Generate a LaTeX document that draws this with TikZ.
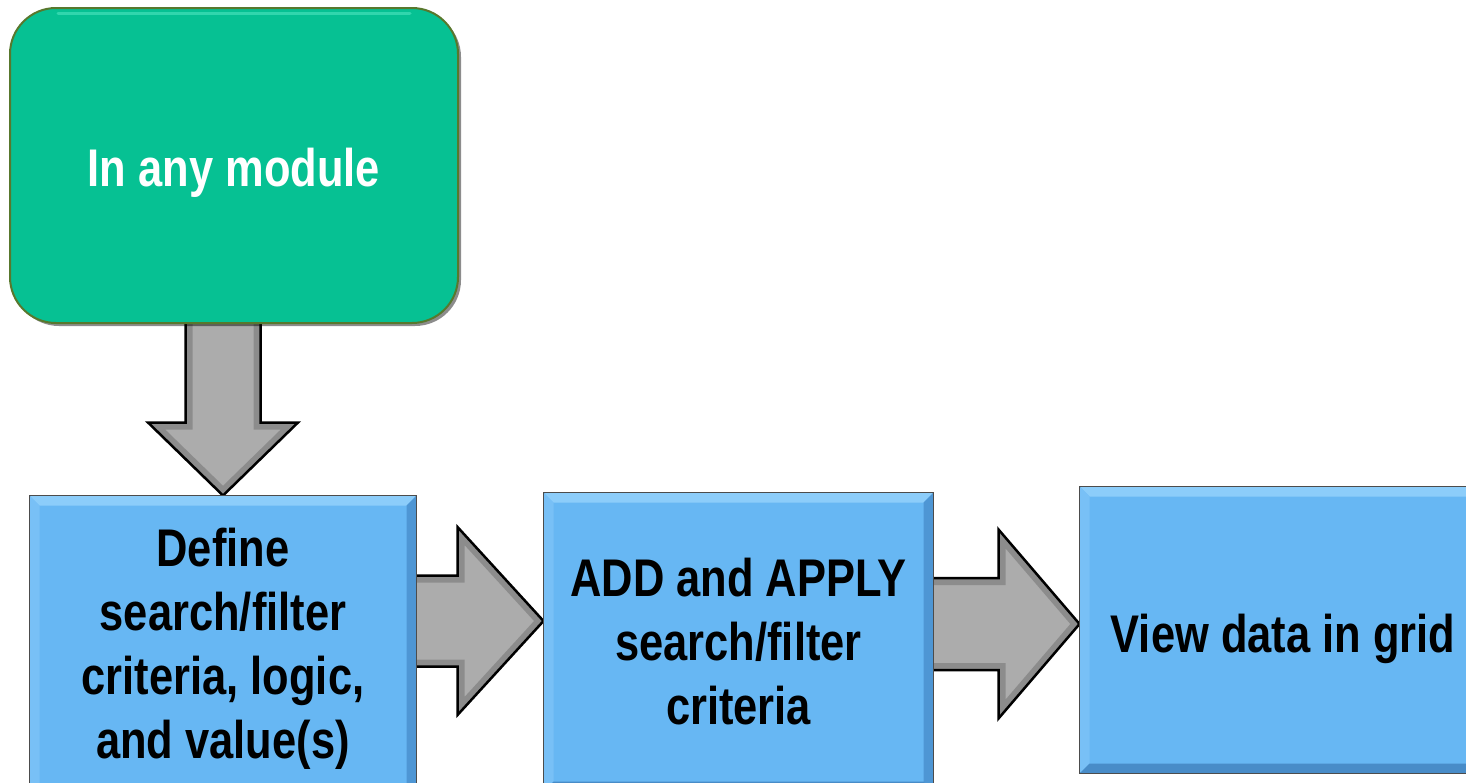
\documentclass[tikz,border=0pt]{standalone}
\usepackage{fontspec}
\newfontfamily\narrowsans{Liberation Sans}[FakeStretch=0.82]
\usetikzlibrary{calc,backgrounds,shadows}

\definecolor{modgreen}{RGB}{6,193,147}
\definecolor{modedge}{RGB}{88,120,45}
\definecolor{modhigh}{RGB}{60,220,180}
\definecolor{stepblue}{RGB}{103,183,243}
\definecolor{bevellight}{RGB}{140,205,250}
\definecolor{bevelside}{RGB}{120,192,246}
\definecolor{beveldark}{RGB}{78,150,212}
\definecolor{bevelbottom}{RGB}{72,140,200}
\definecolor{arrowgray}{RGB}{172,172,172}

\tikzset{
  labeltext/.style={font=\narrowsans\bfseries\fontsize{53}{64}\selectfont, align=center},
  startbox/.style={fill=modgreen, draw=modedge, line width=2pt,
    rounded corners=46pt, minimum width=448pt, minimum height=315pt, inner sep=0pt,
    drop shadow={shadow xshift=3pt, shadow yshift=-3pt, opacity=.45, fill=black}},
  stepbox/.style={fill=stepblue, draw=gray!60!black, line width=1pt, inner sep=0pt},
  arrowrim/.style={draw=black, opacity=.18, line width=14pt},
  arrowline/.style={draw=black, line width=2.5pt, line join=miter},
}

% bevelled edges of a step box: #1 node name, #2 bevel width
\newcommand\bevelbox[2]{%
  \fill[bevellight] (#1.north west) -- (#1.north east) -- ($(#1.north east)+(-#2,#2)$) -- ($(#1.north west)+(#2,#2)$) -- cycle;
  \fill[bevelside] (#1.north west) -- ($(#1.north west)+(#2,#2)$) -- ($(#1.south west)+(#2,-#2)$) -- (#1.south west) -- cycle;
  \fill[beveldark] (#1.north east) -- ($(#1.north east)+(-#2,#2)$) -- ($(#1.south east)+(-#2,-#2)$) -- (#1.south east) -- cycle;
  \fill[bevelbottom] (#1.south west) -- (#1.south east) -- ($(#1.south east)+(-#2,-#2)$) -- ($(#1.south west)+(#2,-#2)$) -- cycle;
  \draw[gray!60!black, line width=1.2pt] (#1.north west) rectangle (#1.south east);
}

\begin{document}
\begin{tikzpicture}[x=1pt, y=-1pt]
  \useasboundingbox (0,0) rectangle (1466,782);
  \clip (0,0) rectangle (1466,782);

  % start box
  \node[startbox] (m) at (234,165.5) {};
  \draw[modhigh, line width=3pt, line cap=round, opacity=.8] (58,13) -- (410,13);
  \node[labeltext, text=white] (mt) at ($(m.center)+(0,7)$) {In any module};

  % step boxes
  \node[stepbox, minimum width=386pt, minimum height=299pt] (d) at (223,645.5) {};
  \node[stepbox, minimum width=389pt, minimum height=298pt] (a) at (738.5,642) {};
  \node[stepbox, minimum width=406pt, minimum height=286pt] (v) at (1283,630) {};
  \bevelbox{d}{10}
  \bevelbox{a}{10}
  \bevelbox{v}{10}
  \node[labeltext, text=black] (dt) at ($(d.center)+(0,3)$) {Define\\search/filter\\criteria, logic,\\and value(s)};
  \node[labeltext, text=black] (at) at (a.center) {ADD and APPLY\\search/filter\\criteria};
  \node[labeltext, text=black] (vt) at ($(v.center)+(0,9)$) {View data in grid};

  % block arrows between the boxes
  \begin{pgfonlayer}{background}
    \coordinate (ds) at (d.north |- m.south);
    \def\downarrowpath{($(ds)+(-37.5,-8)$) -- ($(d.north)+(-37.5,-73)$) -- ($(d.north)+(-75,-73)$) -- (d.north) -- ($(d.north)+(75,-73)$) -- ($(d.north)+(37.5,-73)$) -- ($(ds)+(37.5,-8)$) -- cycle}
    \coordinate (r1s) at ($(d.east |- 0,621)+(-8,0)$);
    \coordinate (r1e) at (a.west |- 0,621);
    \def\firstarrowpath{(r1s) ++(0,-45.5) -- ($(r1e)+(-86,-45.5)$) -- ($(r1e)+(-86,-94)$) -- (r1e) -- ($(r1e)+(-86,94)$) -- ($(r1e)+(-86,45.5)$) -- ($(r1s)+(0,45.5)$) -- cycle}
    \coordinate (r2s) at ($(a.east |- 0,624)+(-8,0)$);
    \coordinate (r2e) at (v.west |- 0,624);
    \def\secondarrowpath{(r2s) ++(0,-46) -- ($(r2e)+(-81,-46)$) -- ($(r2e)+(-81,-94.5)$) -- (r2e) -- ($(r2e)+(-81,94.5)$) -- ($(r2e)+(-81,46)$) -- ($(r2s)+(0,46)$) -- cycle}
    \foreach \p in {\downarrowpath,\firstarrowpath,\secondarrowpath}{
      \fill[arrowgray] \p;
      \begin{scope}
        \clip \p;
        \draw[arrowrim] \p;
      \end{scope}
      \draw[arrowline] \p;
    }
  \end{pgfonlayer}
\end{tikzpicture}
\end{document}
